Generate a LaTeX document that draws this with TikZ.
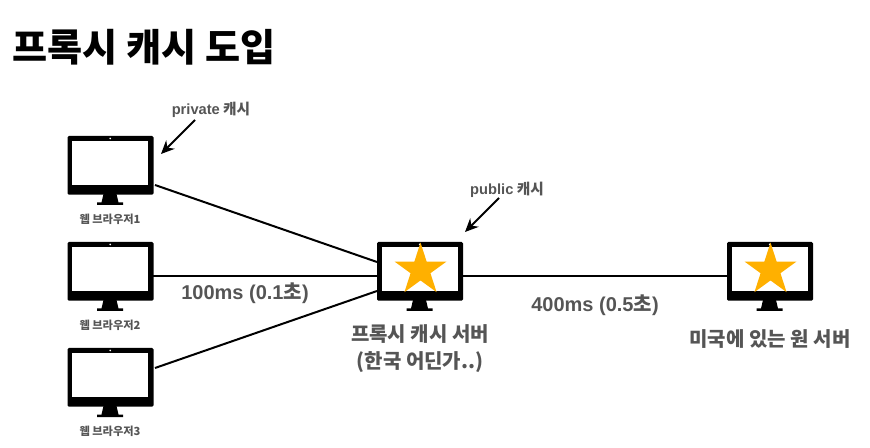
\documentclass[tikz,border=0pt]{standalone}
\usepackage{fontspec}
\setmainfont{Noto Sans CJK KR}
\newfontfamily\latfont{Liberation Sans}
\usetikzlibrary{shapes.geometric,arrows.meta,calc}
\definecolor{txtgrey}{HTML}{555555}
\definecolor{staror}{HTML}{FFB000}
\tikzset{
  x=0.75pt,y=-0.75pt,
  bodybox/.style={fill=black,rounded corners=1pt,minimum width=64.5pt,minimum height=44pt,inner sep=0pt,outer sep=0pt},
  screenbox/.style={fill=white,minimum width=57pt,minimum height=33pt,inner sep=0pt,outer sep=0pt},
  starnode/.style={star,star points=5,star point ratio=2.618,fill=staror,minimum size=41pt,inner sep=0pt,outer sep=0pt},
  link/.style={draw=black,line width=1.5pt},
  callout/.style={draw=black,line width=1.5pt,-{Stealth[length=10pt,width=9pt]}},
  captext/.style={text=txtgrey,font=\bfseries\fontsize{8.4}{10}\selectfont,inner sep=0pt},
  midlabel/.style={text=txtgrey,font=\bfseries\fontsize{15}{20}\selectfont,inner sep=0pt,align=center},
  calltext/.style={text=txtgrey,font=\bfseries\fontsize{11}{13}\selectfont,inner sep=0pt},
}
\newcommand{\monitor}[3]{% name, left px, top px
  \node[bodybox,anchor=north west] (#1) at (#2,#3) {};
  \node[screenbox,anchor=north west] (#1s) at (#2+4.7,#3+5) {};
  \fill[white] (#2+42.7,#3+2.4) circle (0.7pt);
  \fill[black] (#2+36,#3+58) -- (#2+49,#3+58) -- (#2+51,#3+66.5) -- (#2+55.5,#3+66.5) -- (#2+55.5,#3+69) -- (#2+29.5,#3+69) -- (#2+29.5,#3+66.5) -- (#2+34,#3+66.5) -- cycle;
}
\begin{document}
\begin{tikzpicture}
\useasboundingbox (0,0) rectangle (870,448);
\node[anchor=west,inner sep=0pt,font=\bfseries\fontsize{28.6}{32}\selectfont] (title) at (12.5,47) {프록시 캐시 도입};

\monitor{ma}{67.5}{136}
\monitor{mb}{67.5}{242}
\monitor{mc}{67.5}{348}
\monitor{px}{377}{242}
\monitor{og}{727}{242}

\node[starnode] (pstar) at (420.5,270) {};
\node[starnode] (ostar) at (770.5,270) {};

\coordinate (a1) at (155,185);
\coordinate (b1) at (153,276.5);
\coordinate (c1) at (155,368);
\coordinate (pa) at (377,262);
\coordinate (pb) at (377,276.5);
\coordinate (pc) at (377,291);
\coordinate (pr) at (463,276.5);
\coordinate (ol) at (727,276.5);
\draw[link] (a1) -- (pa);
\draw[link] (b1) -- (pb);
\draw[link] (c1) -- (pc);
\draw[link] (pr) -- (ol);

\coordinate (ca) at (195,120);
\coordinate (cb) at (161,154);
\coordinate (cc) at (499,198);
\coordinate (cd) at (465,232);
\draw[callout] (ca) -- (cb);
\draw[callout] (cc) -- (cd);

\node[calltext] (lpriv) at (211,109.5) {{\latfont private} 캐시};
\node[calltext] (lpub) at (507,190) {{\latfont public} 캐시};
\node[captext] (la) at (110,219.5) {웹 브라우저1};
\node[captext] (lb) at (110,325.5) {웹 브라우저2};
\node[captext] (lc) at (110,431) {웹 브라우저3};
\node[midlabel] (t1) at (245,293) {{\latfont 100ms (0.1}초{\latfont )}};
\node[midlabel] (t2) at (595,305) {{\latfont 400ms (0.5}초{\latfont )}};
\node[midlabel] (lp) at (420,348.5) {프록시 캐시 서버\\(한국 어딘가..)};
\node[midlabel] (lo) at (770,339) {미국에 있는 원 서버};
\end{tikzpicture}
\end{document}
